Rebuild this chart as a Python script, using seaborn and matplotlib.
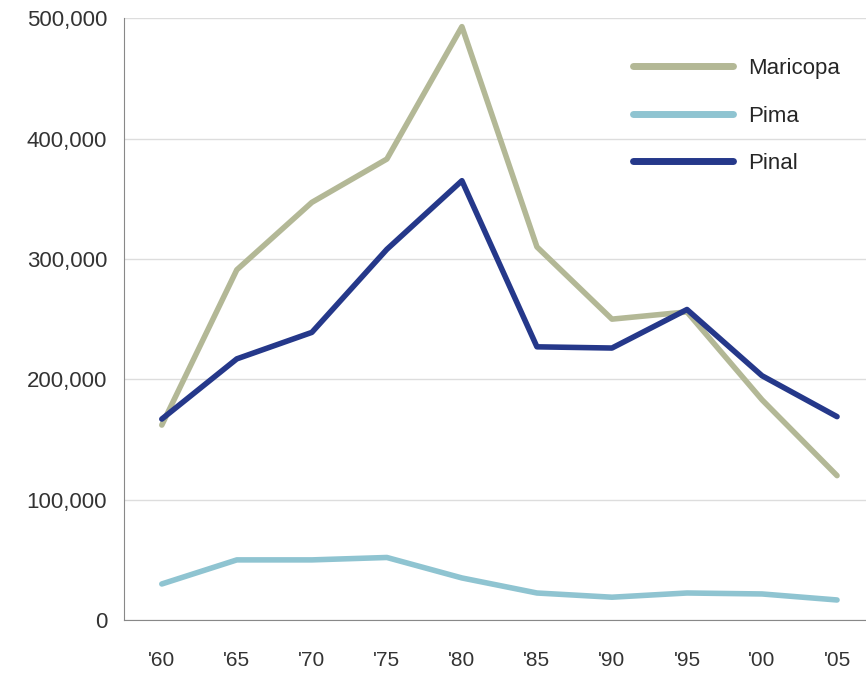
import numpy as np
import pandas as pd
import matplotlib
matplotlib.use("Agg")
import matplotlib.pyplot as plt
import seaborn as sns

years = [1960, 1965, 1970, 1975, 1980, 1985, 1990, 1995, 2000, 2005]
year_labels = ["'60", "'65", "'70", "'75", "'80", "'85", "'90", "'95", "'00", "'05"]
maricopa = [162000, 291000, 347000, 383000, 493000, 310000, 250000, 256000, 183000, 120000]
pima = [30000, 50000, 50000, 52000, 35000, 22500, 19000, 22500, 21700, 16700]
pinal = [167000, 217000, 239000, 308000, 365000, 227000, 226000, 258000, 203000, 169000]

df = pd.DataFrame({
    "year": years * 3,
    "value": maricopa + pima + pinal,
    "county": ["Maricopa"] * 10 + ["Pima"] * 10 + ["Pinal"] * 10,
})
colors = {"Maricopa": "#b3b896", "Pima": "#8fc4d1", "Pinal": "#25388a"}

sns.set_style("white")
plt.rcParams["font.family"] = ["Liberation Sans", "DejaVu Sans"]

fig = plt.figure(figsize=(8.66, 6.74), dpi=100)
ax = fig.add_axes([0.143, 0.08, 0.857, 0.893])
sns.lineplot(data=df, x="year", y="value", hue="county", palette=colors,
             linewidth=4, ax=ax)

ax.set_xlim(1957.47, 2006.93)
ax.set_ylim(0, 500000)
ax.set_xticks(years)
ax.set_xticklabels(year_labels)
ax.set_yticks(np.arange(0, 500001, 100000))
ax.set_yticklabels(["0", "100,000", "200,000", "300,000", "400,000", "500,000"])
ax.grid(axis="y", color="#dddddd", linewidth=1)
ax.set_axisbelow(True)
for s in ["top", "right"]:
    ax.spines[s].set_visible(False)
ax.spines["left"].set_color("#888888")
ax.spines["bottom"].set_color("#888888")
ax.tick_params(axis="x", direction="out", length=14, width=1, color="#888888",
               labelsize=15, labelcolor="#333333", pad=8)
ax.tick_params(axis="y", length=0, labelsize=16, labelcolor="#333333", pad=12)
ax.set_xlabel("")
ax.set_ylabel("")

leg = ax.legend(loc="upper left", bbox_to_anchor=(0.686, 0.934), frameon=False,
                fontsize=16, handlelength=4.5, handletextpad=0.7, labelspacing=1.2,
                borderpad=0, borderaxespad=0)
for line in leg.get_lines():
    line.set_linewidth(5)

fig.savefig("out.png", dpi=100)
